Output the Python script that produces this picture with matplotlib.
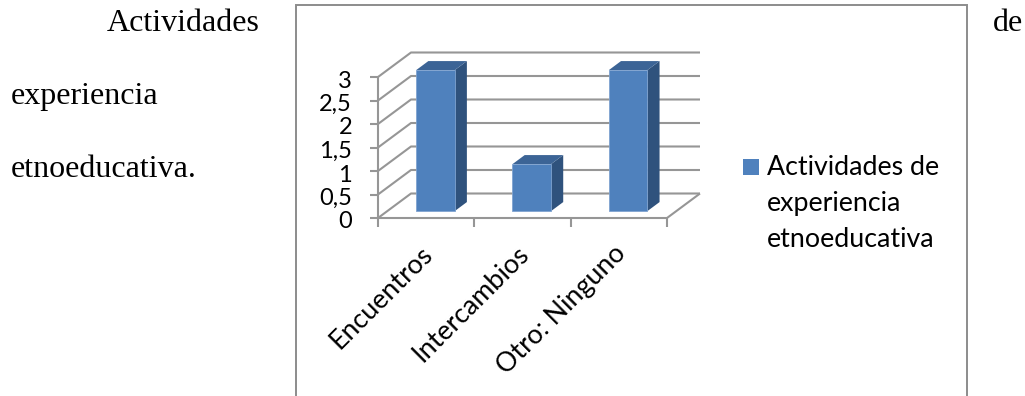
import matplotlib
matplotlib.use("Agg")
import matplotlib.pyplot as plt
from matplotlib.patches import Polygon, Rectangle

categories = ["Encuentros", "Intercambios", "Otro: Ninguno"]
values = [3, 1, 3]
y_ticks = [0, 0.5, 1, 1.5, 2, 2.5, 3]
y_tick_labels = ["0", "0,5", "1", "1,5", "2", "2,5", "3"]
series_lines = ["Actividades de", "experiencia", "etnoeducativa"]
body_lines = [("Actividades", 107, 31), ("de", 993, 31), ("experiencia", 11, 104), ("etnoeducativa.", 11, 177)]

W, H = 1025, 396
BLUE, SIDE, TOP = "#4f81bd", "#2f527d", "#3c6496"
GRID = "#969696"
CHART_FONT = "Lato"

fig = plt.figure(figsize=(W / 100, H / 100), dpi=100)
page = fig.add_axes([0, 0, 1, 1])
page.set_xlim(0, W)
page.set_ylim(H, 0)
page.axis("off")

# Chart frame and the surrounding document text
page.add_patch(Rectangle((296, 5), 671, H + 10, fc="white", ec="#8c8c8c", lw=1.4))
for text, x, y in body_lines:
    page.text(x, y, text, family="Liberation Serif", fontsize=23, va="baseline", ha="left", color="black")

# Plot axes lie on the front plane of the oblique 3-D box
left, right, bottom, top = 378, 667, 218, 77
ax = fig.add_axes([left / W, 1 - bottom / H, (right - left) / W, (bottom - top) / H])
ax.set_xlim(0, 3)
ax.set_ylim(0, 3)
ax.axis("off")

DX = 33 / ((right - left) / 3)
DY = 24.5 / ((bottom - top) / 3)


def proj(x, y, depth):
    return x + depth * DX, y + depth * DY


def line(points, **kw):
    xs, ys = zip(*points)
    ax.plot(xs, ys, color=GRID, lw=1.5, clip_on=False, solid_capstyle="butt", **kw)


# Wall gridlines and the matching strokes on the side wall
for t in y_ticks:
    line([proj(0, t, 0), proj(0, t, 1), proj(3, t, 1)])
line([proj(0, 0, 0), proj(0, 3, 0)])
line([proj(0, 0, 0), proj(3, 0, 0), proj(3, 0, 1)])

# Tick marks and labels
tick_x = 8 / ((right - left) / 3)
tick_y = 9 / ((bottom - top) / 3)
label_x = 26 / ((right - left) / 3)
label_drop = 4 / ((bottom - top) / 3)
for t, label in zip(y_ticks, y_tick_labels):
    line([(0, t), (-tick_x, t)])
    ax.text(-label_x, t - label_drop, label, family=CHART_FONT, fontsize=17, ha="right", va="center", clip_on=False)
for i in range(len(categories) + 1):
    line([(i, 0), (i, -tick_y)])

# Bars with front, side and top faces
WIDTH, D0, D1 = 0.40, 0.28, 0.65
for i, (name, v) in enumerate(zip(categories, values)):
    c = i + 0.5 + D0 * DX
    x0, x1 = c - WIDTH / 2, c + WIDTH / 2
    lo = D0 * DY
    shift_x, shift_y = (D1 - D0) * DX, (D1 - D0) * DY
    ax.add_patch(Polygon([(x1, lo), (x1 + shift_x, lo + shift_y), (x1 + shift_x, lo + v + shift_y), (x1, lo + v)],
                         fc=SIDE, ec="none", clip_on=False, zorder=3))
    ax.add_patch(Polygon([(x0, lo + v), (x1, lo + v), (x1 + shift_x, lo + v + shift_y), (x0 + shift_x, lo + v + shift_y)],
                         fc=TOP, ec="none", clip_on=False, zorder=3))
    ax.add_patch(Rectangle((x0, lo), WIDTH, v, fc=BLUE, ec="#7fa3d0", lw=0.6, clip_on=False, zorder=4))
    ax.annotate(name, xy=(i + 0.5, 0), xytext=(-4.5, -16.5), textcoords="offset points",
                family=CHART_FONT, fontsize=19.3, rotation=45, rotation_mode="anchor",
                ha="right", va="top", annotation_clip=False)

# Legend
page.add_patch(Rectangle((743, 159), 16, 16, fc=BLUE, ec="none"))
for row, text in enumerate(series_lines):
    page.text(767, 175 + 36 * row, text, family=CHART_FONT, fontsize=19.3, va="baseline", ha="left")

fig.savefig("out.png", dpi=100)
